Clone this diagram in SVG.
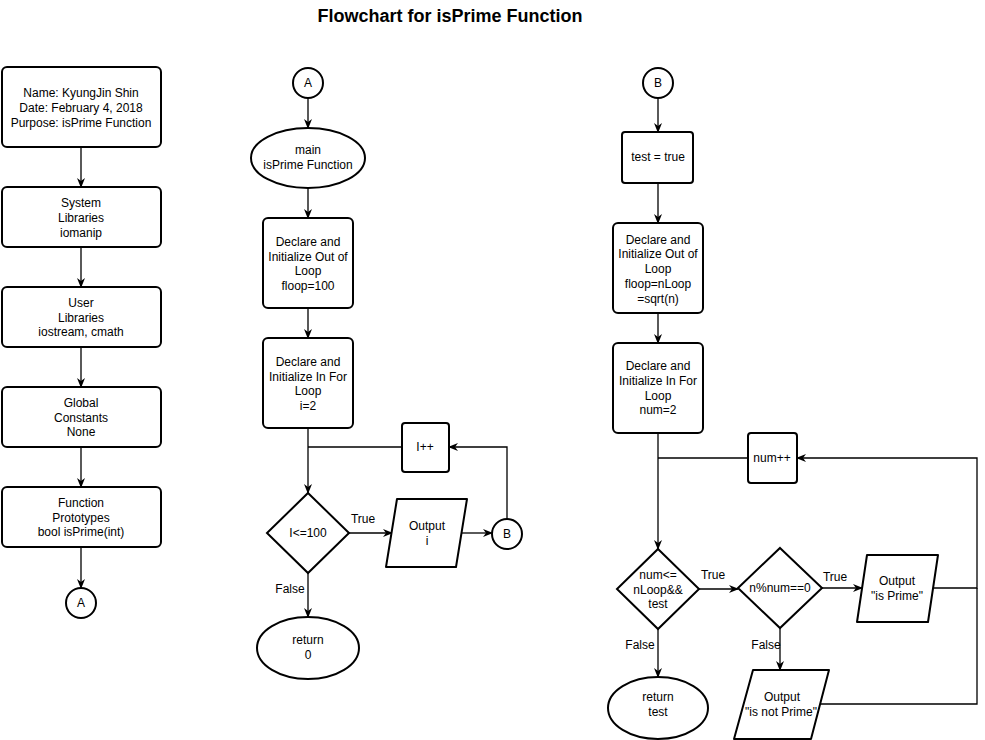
<svg xmlns="http://www.w3.org/2000/svg" width="985" height="740" viewBox="0 0 985 740">
<style>
.s{fill:#fff;stroke:#000;stroke-width:2}
.t{font-family:"Liberation Sans",Arial,sans-serif;font-size:12px;fill:#000;text-anchor:middle}
.c{fill:none;stroke:#000;stroke-width:1.3}
.a{marker-end:url(#ah)}
.title{font-family:"Liberation Sans",Arial,sans-serif;font-size:18px;font-weight:bold;text-anchor:middle}
</style>
<defs>
<marker id="ah" markerUnits="userSpaceOnUse" markerWidth="10" markerHeight="10" viewBox="0 0 10 10" refX="9" refY="5" orient="auto">
<path d="M0,1 L10,5 L0,9 L3,5 z" fill="#000"/>
</marker>
</defs>
<rect width="985" height="740" fill="#fff"/>
<text class="title" x="450" y="22">Flowchart for isPrime Function</text>

<g id="connectors">
<line class="c a" x1="81" y1="148" x2="81" y2="187"/>
<line class="c a" x1="81" y1="248" x2="81" y2="287"/>
<line class="c a" x1="81" y1="348" x2="81" y2="387"/>
<line class="c a" x1="81" y1="448" x2="81" y2="487"/>
<line class="c a" x1="81" y1="548" x2="81" y2="588"/>

<line class="c a" x1="308" y1="98" x2="308" y2="128"/>
<line class="c a" x1="308" y1="188" x2="308" y2="218"/>
<line class="c a" x1="308" y1="308" x2="308" y2="338"/>
<line class="c a" x1="308" y1="428" x2="308" y2="493"/>
<line class="c" x1="402" y1="447" x2="308" y2="447"/>
<line class="c a" x1="349" y1="533" x2="392" y2="533"/>
<line class="c a" x1="462" y1="533" x2="492" y2="533"/>
<polyline class="c a" points="507,519 507,447 449,447"/>
<line class="c a" x1="308" y1="573" x2="308" y2="617"/>

<line class="c a" x1="658" y1="98" x2="658" y2="132"/>
<line class="c a" x1="658" y1="183" x2="658" y2="223"/>
<line class="c a" x1="658" y1="313" x2="658" y2="343"/>
<line class="c a" x1="658" y1="433" x2="658" y2="549"/>
<line class="c" x1="748" y1="458" x2="658" y2="458"/>
<line class="c a" x1="699" y1="589" x2="738" y2="589"/>
<line class="c a" x1="822" y1="588" x2="862" y2="588"/>
<polyline class="c a" points="933,588 977,588 977,458 797,458"/>
<polyline class="c" points="820,704 977,704 977,588"/>
<line class="c a" x1="780" y1="628" x2="780" y2="670"/>
<line class="c a" x1="658" y1="629" x2="658" y2="677"/>

<text class="t" x="363" y="523">True</text>
<text class="t" x="290" y="593">False</text>
<text class="t" x="713" y="579">True</text>
<text class="t" x="835" y="581">True</text>
<text class="t" x="640" y="649">False</text>
<text class="t" x="766" y="649">False</text>
</g>

<g id="header">
<rect class="s" x="2" y="67" width="159" height="80" rx="5"/>
<text class="t" x="81" y="97">Name: KyungJin Shin</text>
<text class="t" x="81" y="112">Date: February 4, 2018</text>
<text class="t" x="81" y="127">Purpose: isPrime Function</text>
</g>
<g id="syslib">
<rect class="s" x="2" y="187" width="159" height="60" rx="5"/>
<text class="t" x="81" y="207">System</text>
<text class="t" x="81" y="222">Libraries</text>
<text class="t" x="81" y="237">iomanip</text>
</g>
<g id="userlib">
<rect class="s" x="2" y="287" width="159" height="60" rx="5"/>
<text class="t" x="81" y="307">User</text>
<text class="t" x="81" y="322">Libraries</text>
<text class="t" x="81" y="336">iostream, cmath</text>
</g>
<g id="globals">
<rect class="s" x="2" y="387" width="159" height="60" rx="5"/>
<text class="t" x="81" y="407">Global</text>
<text class="t" x="81" y="422">Constants</text>
<text class="t" x="81" y="436">None</text>
</g>
<g id="protos">
<rect class="s" x="2" y="487" width="159" height="60" rx="5"/>
<text class="t" x="81" y="507">Function</text>
<text class="t" x="81" y="522">Prototypes</text>
<text class="t" x="81" y="536">bool isPrime(int)</text>
</g>
<g id="connA1">
<circle class="s" cx="81" cy="603" r="15"/>
<text class="t" x="81" y="607">A</text>
</g>

<g id="connA2">
<circle class="s" cx="308" cy="83" r="15"/>
<text class="t" x="308" y="87">A</text>
</g>
<g id="mainStart">
<ellipse class="s" cx="308" cy="158" rx="57" ry="30"/>
<text class="t" x="308" y="154">main</text>
<text class="t" x="308" y="169">isPrime Function</text>
</g>
<g id="declOut1">
<rect class="s" x="263" y="218" width="90" height="90" rx="5"/>
<text class="t" x="308" y="246">Declare and</text>
<text class="t" x="308" y="261">Initialize Out of</text>
<text class="t" x="308" y="275">Loop</text>
<text class="t" x="308" y="290">floop=100</text>
</g>
<g id="declIn1">
<rect class="s" x="263" y="338" width="90" height="90" rx="5"/>
<text class="t" x="308" y="366">Declare and</text>
<text class="t" x="308" y="381">Initialize In For</text>
<text class="t" x="308" y="395">Loop</text>
<text class="t" x="308" y="410">i=2</text>
</g>
<g id="inc1">
<rect class="s" x="402" y="423" width="47" height="49" rx="3"/>
<text class="t" x="425" y="451">I++</text>
</g>
<g id="cond1">
<polygon class="s" points="308,493 349,533 308,573 267,533"/>
<text class="t" x="308" y="537">I&lt;=100</text>
</g>
<g id="outI">
<path class="s" d="M397,499 L467,499 L456,567 L386,567 Z" stroke-linejoin="round"/>
<text class="t" x="427" y="530">Output</text>
<text class="t" x="427" y="545">i</text>
</g>
<g id="connB1">
<circle class="s" cx="507" cy="534" r="15"/>
<text class="t" x="507" y="538">B</text>
</g>
<g id="ret0">
<ellipse class="s" cx="308" cy="648" rx="51" ry="31"/>
<text class="t" x="308" y="644">return</text>
<text class="t" x="308" y="659">0</text>
</g>

<g id="connB2">
<circle class="s" cx="658" cy="83" r="15"/>
<text class="t" x="658" y="87">B</text>
</g>
<g id="testTrue">
<rect class="s" x="622" y="132" width="71" height="51" rx="3"/>
<text class="t" x="658" y="161">test = true</text>
</g>
<g id="declOut2">
<rect class="s" x="613" y="223" width="90" height="90" rx="5"/>
<text class="t" x="658" y="244">Declare and</text>
<text class="t" x="658" y="258">Initialize Out of</text>
<text class="t" x="658" y="273">Loop</text>
<text class="t" x="658" y="288">floop=nLoop</text>
<text class="t" x="658" y="303">=sqrt(n)</text>
</g>
<g id="declIn2">
<rect class="s" x="613" y="343" width="90" height="90" rx="5"/>
<text class="t" x="658" y="370">Declare and</text>
<text class="t" x="658" y="385">Initialize In For</text>
<text class="t" x="658" y="400">Loop</text>
<text class="t" x="658" y="414">num=2</text>
</g>
<g id="inc2">
<rect class="s" x="748" y="433" width="49" height="50" rx="3"/>
<text class="t" x="772" y="462">num++</text>
</g>
<g id="cond2">
<polygon class="s" points="658,549 699,589 658,629 617,589"/>
<text class="t" x="658" y="579">num&lt;=</text>
<text class="t" x="658" y="594">nLoop&amp;&amp;</text>
<text class="t" x="658" y="608">test</text>
</g>
<g id="cond3">
<polygon class="s" points="780,548 822,588 780,628 738,588"/>
<text class="t" x="780" y="592">n%num==0</text>
</g>
<g id="outPrime">
<path class="s" d="M867,555 L938,555 L928,622 L857,622 Z" stroke-linejoin="round"/>
<text class="t" x="897" y="585">Output</text>
<text class="t" x="897" y="600">"is Prime"</text>
</g>
<g id="outNotPrime">
<path class="s" d="M753,670 L829,670 L811,739 L734,739 Z" stroke-linejoin="round"/>
<text class="t" x="782" y="701">Output</text>
<text class="t" x="781" y="716">"is not Prime"</text>
</g>
<g id="retTest">
<ellipse class="s" cx="658" cy="708" rx="50" ry="31"/>
<text class="t" x="658" y="701">return</text>
<text class="t" x="658" y="716">test</text>
</g>
</svg>
